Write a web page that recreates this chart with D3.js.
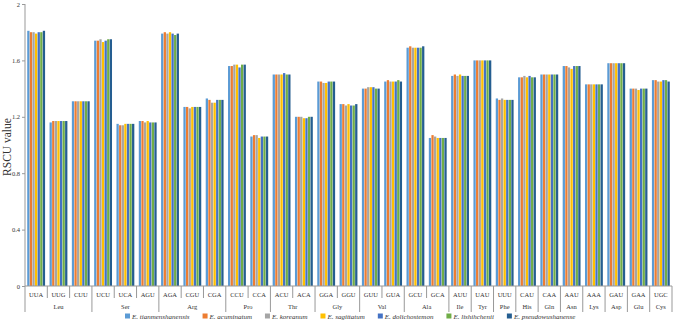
<!DOCTYPE html>
<html>
<head>
<meta charset="utf-8">
<script src="https://cdn.jsdelivr.net/npm/d3@7"></script>
<style>
  body { margin: 0; background: #fff; }
  svg text { font-family: "Liberation Serif", "Times New Roman", serif; fill: #333; }
</style>
</head>
<body>
<div id="chart"></div>
<script>
// codons, the amino acid each codes for, and RSCU per species
var codons = ['UUA', 'UUG', 'CUU', 'UCU', 'UCA', 'AGU', 'AGA', 'CGU', 'CGA', 'CCU', 'CCA', 'ACU', 'ACA', 'GGA', 'GGU',
  'GUU', 'GUA', 'GCU', 'GCA', 'AUU', 'UAU', 'UUU', 'CAU', 'CAA', 'AAU', 'AAA', 'GAU', 'GAA', 'UGC'];
var aminoAcids = ['Leu', 'Ser', 'Arg', 'Pro', 'Thr', 'Gly', 'Val', 'Ala', 'Ile', 'Tyr', 'Phe', 'His', 'Gln', 'Asn', 'Lys', 'Asp', 'Glu', 'Cys'];
var codonCounts = [3, 3, 3, 2, 2, 2, 2, 2, 1, 1, 1, 1, 1, 1, 1, 1, 1, 1];
var species = ['E. tianmenshanensis', 'E. acuminatum', 'E. koreanum', 'E. sagittatum', 'E. dolichostemon', 'E. lishihchenii', 'E. pseudowushanense'];
var colors = ['#5b9bd5', '#ed7d31', '#a5a5a5', '#ffc000', '#4472c4', '#70ad47', '#255e91'];
var yTicks = [0, 0.4, 0.8, 1.2, 1.6, 2];

var tianmenshanensis = [1.81, 1.16, 1.31, 1.74, 1.15, 1.17, 1.79, 1.27, 1.33, 1.56, 1.06, 1.50, 1.20, 1.45, 1.29, 1.40, 1.45, 1.69, 1.05, 1.49, 1.60, 1.33, 1.48, 1.50, 1.56, 1.43, 1.58, 1.40, 1.46];
var acuminatum =       [1.80, 1.17, 1.31, 1.74, 1.14, 1.17, 1.80, 1.27, 1.32, 1.56, 1.07, 1.50, 1.20, 1.45, 1.29, 1.40, 1.46, 1.70, 1.07, 1.50, 1.60, 1.32, 1.48, 1.50, 1.56, 1.43, 1.58, 1.40, 1.46];
var koreanum =         [1.80, 1.17, 1.31, 1.75, 1.14, 1.16, 1.79, 1.26, 1.30, 1.57, 1.07, 1.50, 1.20, 1.44, 1.28, 1.41, 1.45, 1.69, 1.06, 1.49, 1.60, 1.33, 1.49, 1.50, 1.55, 1.43, 1.58, 1.40, 1.45];
var sagittatum =       [1.79, 1.17, 1.31, 1.73, 1.15, 1.17, 1.80, 1.27, 1.30, 1.57, 1.05, 1.50, 1.19, 1.44, 1.29, 1.41, 1.45, 1.69, 1.05, 1.50, 1.60, 1.32, 1.48, 1.50, 1.54, 1.43, 1.58, 1.39, 1.45];
var dolichostemon =    [1.80, 1.17, 1.31, 1.74, 1.15, 1.16, 1.79, 1.27, 1.32, 1.55, 1.06, 1.51, 1.19, 1.45, 1.28, 1.41, 1.45, 1.69, 1.05, 1.49, 1.60, 1.32, 1.49, 1.50, 1.56, 1.43, 1.58, 1.40, 1.46];
var lishihchenii =     [1.80, 1.17, 1.31, 1.75, 1.15, 1.16, 1.78, 1.27, 1.32, 1.57, 1.06, 1.50, 1.20, 1.45, 1.28, 1.40, 1.46, 1.69, 1.05, 1.49, 1.60, 1.32, 1.48, 1.50, 1.56, 1.43, 1.58, 1.40, 1.46];
var pseudowushanense = [1.81, 1.17, 1.31, 1.75, 1.15, 1.16, 1.79, 1.27, 1.32, 1.57, 1.06, 1.50, 1.20, 1.45, 1.29, 1.40, 1.45, 1.70, 1.05, 1.49, 1.60, 1.32, 1.48, 1.50, 1.56, 1.43, 1.58, 1.40, 1.45];
var seriesValues = [tianmenshanensis, acuminatum, koreanum, sagittatum, dolichostemon, lishihchenii, pseudowushanense];

var width = 676, height = 325,
    margin = {top: 4, right: 4, bottom: 39, left: 25},
    plotBottom = height - margin.bottom;

var svg = d3.select('#chart').append('svg').attr('width', width).attr('height', height);

var x = d3.scaleBand().domain(codons).range([margin.left, width - margin.right]).paddingInner(0.2).paddingOuter(0.1);
var xs = d3.scaleBand().domain(d3.range(species.length)).range([0, x.bandwidth()]).paddingInner(0.12);
var y = d3.scaleLinear().domain([0, 2]).range([plotBottom, margin.top]);

// bars
var groups = svg.append('g').selectAll('g').data(codons).enter().append('g')
  .attr('transform', function (d) { return 'translate(' + x(d) + ',0)'; });
groups.selectAll('rect').data(function (d, i) {
  return seriesValues.map(function (s, k) { return {k: k, v: s[i]}; });
}).enter().append('rect')
  .attr('x', function (d) { return xs(d.k); })
  .attr('width', xs.bandwidth())
  .attr('y', function (d) { return y(d.v); })
  .attr('height', function (d) { return plotBottom - y(d.v); })
  .attr('fill', function (d) { return colors[d.k]; });

// y axis
var yAxis = svg.append('g').attr('transform', 'translate(' + margin.left + ',0)')
  .call(d3.axisLeft(y).tickValues(yTicks).tickSize(3).tickPadding(2).tickFormat(d3.format('~g')));
yAxis.select('.domain').remove();
yAxis.selectAll('line').attr('stroke', '#999');
yAxis.selectAll('text').style('font-size', '6.5px').attr('fill', '#333');
svg.append('line').attr('x1', margin.left).attr('x2', margin.left)
  .attr('y1', margin.top).attr('y2', plotBottom + 26).attr('stroke', '#999');

svg.append('text').attr('transform', 'translate(11,' + (y(1) + 2) + ') rotate(-90)')
  .attr('text-anchor', 'middle').style('font-size', '11.5px').attr('fill', '#111').text('RSCU value');

// x axis: codon row and amino acid row
var step = x.step(), x0 = margin.left;
svg.append('line').attr('x1', x0).attr('x2', width - margin.right)
  .attr('y1', plotBottom).attr('y2', plotBottom).attr('stroke', '#999');

svg.append('g').selectAll('text').data(codons).enter().append('text')
  .attr('x', function (d) { return x(d) + x.bandwidth() / 2; })
  .attr('y', plotBottom + 10.5)
  .attr('text-anchor', 'middle').style('font-size', '6.5px').text(function (d) { return d; });

var boundaries = d3.cumsum(codonCounts);
var groupEnds = {};
boundaries.forEach(function (b) { groupEnds[b] = true; });
svg.append('g').selectAll('line').data(d3.range(1, codons.length + 1)).enter().append('line')
  .attr('x1', function (i) { return x0 + i * step; })
  .attr('x2', function (i) { return x0 + i * step; })
  .attr('y1', plotBottom)
  .attr('y2', function (i) { return groupEnds[i] ? plotBottom + 26 : plotBottom + 12; })
  .attr('stroke', '#999');

svg.append('g').selectAll('text').data(aminoAcids).enter().append('text')
  .attr('x', function (d, i) {
    var start = i === 0 ? 0 : boundaries[i - 1];
    return x0 + (start + codonCounts[i] / 2) * step;
  })
  .attr('y', plotBottom + 23)
  .attr('text-anchor', 'middle').style('font-size', '6.5px').text(function (d) { return d; });

// legend
var legend = svg.append('g').attr('transform', 'translate(0,' + (height - 6.5) + ')');
var items = legend.selectAll('g').data(species).enter().append('g');
items.append('rect').attr('x', 0).attr('y', -5).attr('width', 5).attr('height', 5)
  .attr('fill', function (d, i) { return colors[i]; });
items.append('text').attr('x', 7).attr('y', 0).style('font-size', '7px').style('font-style', 'italic')
  .text(function (d) { return d; });
var pos = 125;
items.each(function () {
  var g = d3.select(this);
  g.attr('transform', 'translate(' + pos + ',0)');
  pos += 7 + g.select('text').node().getComputedTextLength() + 13;
});
</script>
</body>
</html>
